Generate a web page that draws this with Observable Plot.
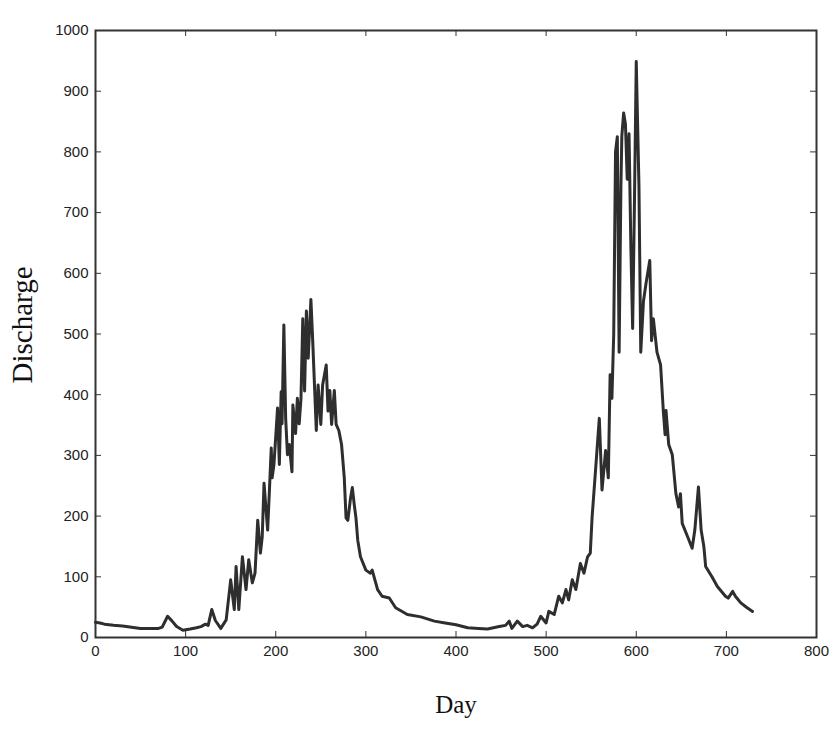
<!DOCTYPE html>
<html>
<head>
<meta charset="utf-8">
<script src="https://cdn.jsdelivr.net/npm/d3@7"></script>
<script src="https://cdn.jsdelivr.net/npm/@observablehq/plot@0.6"></script>
<style>
  html, body { margin: 0; padding: 0; background: #fff; }
  #chart svg { display: block; }
  #chart svg g[aria-label="x-axis tick label"],
  #chart svg g[aria-label="y-axis tick label"] { font-size: 15px; }
</style>
</head>
<body>
<div id="chart"></div>
<script>
// Day of record and daily discharge
const days = [
  0, 5, 10, 20, 30, 40, 50, 60, 70, 74, 80, 85, 90, 97, 105, 112, 117, 122, 125, 129, 133, 139, 145,
  150, 154, 156, 159, 163, 167, 170, 174, 177, 180, 183, 185, 187, 191, 193, 195, 196, 198,
  202, 204, 206, 207, 209, 211, 213, 215, 218, 219, 222, 224, 226, 228, 230, 232, 234, 236, 239, 241,
  245, 247, 250, 252, 256, 258, 260, 262, 265, 267, 270, 273, 276, 278, 280, 283, 285, 287, 289, 291, 294,
  300, 305, 307, 313, 318, 326, 333, 346, 361, 376, 388, 400, 413, 425, 435, 448, 455, 459, 462, 468, 474,
  479, 485, 490, 494, 500, 503, 509, 514, 518, 522, 525, 529, 533, 538, 542, 546, 549, 551, 555, 559,
  562, 566, 569, 571, 573, 575, 577, 579, 581, 583, 584, 586, 588, 590, 592, 594, 596, 598, 600,
  603, 605, 608, 611, 615, 617, 619, 623, 627, 630, 632, 633, 636, 640, 644, 647, 649, 651, 657,
  662, 665, 669, 672, 675, 677, 684, 690, 699, 702, 707, 710, 716, 723, 729
];
const discharge = [
  25, 24, 22, 20, 19, 17, 15, 15, 15, 17, 35, 27, 18, 12, 14, 16, 18, 22, 20, 46, 28, 15, 29,
  95, 46, 117, 46, 133, 79, 128, 90, 106, 193, 139, 166, 254, 177, 243, 312, 263, 285,
  378, 285, 405, 352, 515, 361, 301, 318, 273, 383, 336, 394, 352, 394, 525, 406, 538, 460, 557, 489,
  341, 416, 351, 416, 449, 373, 407, 351, 407, 351, 341, 318, 264, 197, 193, 230, 247, 220, 197, 160, 133,
  111, 106, 111, 79, 68, 65, 49, 38, 34, 27, 24, 21, 16, 15, 14, 18, 20, 27, 15, 27, 18,
  20, 16, 22, 35, 24, 43, 38, 68, 57, 79, 62, 95, 79, 122, 106, 133, 139, 198, 279, 361,
  243, 308, 263, 433, 394, 500, 800, 825, 470, 746, 826, 864, 846, 755, 830, 646, 509, 716, 949,
  744, 470, 554, 585, 621, 489, 525, 470, 449, 374, 334, 374, 318, 301, 237, 215, 237, 188, 166,
  147, 177, 248, 177, 150, 117, 100, 84, 68, 65, 76, 68, 57, 49, 43
];
const xTicks = [0, 100, 200, 300, 400, 500, 600, 700, 800];
const yTicks = [0, 100, 200, 300, 400, 500, 600, 700, 800, 900, 1000];

const data = days.map((d, i) => ({day: d, q: discharge[i]}));

const W = 840, H = 751;
const mTop = 30, mBottom = 114, mLeft = 95, mRight = 24;
const innerH = H - mTop - mBottom;
const innerW = W - mLeft - mRight;
const tickLen = 6;
const ink = "#333";
const serif = "'Liberation Serif', 'Times New Roman', serif";

const chart = Plot.plot({
  width: W,
  height: H,
  marginTop: mTop,
  marginBottom: mBottom,
  marginLeft: mLeft,
  marginRight: mRight,
  style: {fontFamily: "'Liberation Sans', Arial, sans-serif", background: "#fff"},
  x: {domain: [0, 800]},
  y: {domain: [0, 1000]},
  marks: [
    Plot.axisX(xTicks, {tickSize: 0, tickPadding: 8, label: null, tickFormat: d => String(d), fill: "#222"}),
    Plot.axisY(yTicks, {tickSize: 0, tickPadding: 7, label: null, tickFormat: d => String(d), fill: "#222"}),
    // inward ticks on all four sides
    Plot.tickX(xTicks, {x: d => d, insetTop: innerH - tickLen, stroke: ink, strokeWidth: 1}),
    Plot.tickX(xTicks, {x: d => d, insetBottom: innerH - tickLen, stroke: ink, strokeWidth: 1}),
    Plot.tickY(yTicks, {y: d => d, insetRight: innerW - tickLen, stroke: ink, strokeWidth: 1}),
    Plot.tickY(yTicks, {y: d => d, insetLeft: innerW - tickLen, stroke: ink, strokeWidth: 1}),
    Plot.lineY(data, {x: "day", y: "q", stroke: "#2e2e2e", strokeWidth: 3, strokeLinejoin: "round"}),
    Plot.frame({stroke: ink, strokeWidth: 2}),
    Plot.text(["Day"], {frameAnchor: "bottom", dy: 75, fontSize: 25, fontFamily: serif, fill: "#111"}),
    Plot.text(["Discharge"], {frameAnchor: "left", textAnchor: "middle", dx: -73, dy: -9, rotate: -90, fontSize: 29, fontFamily: serif, fill: "#111"})
  ]
});
document.getElementById("chart").appendChild(chart);
</script>
</body>
</html>
